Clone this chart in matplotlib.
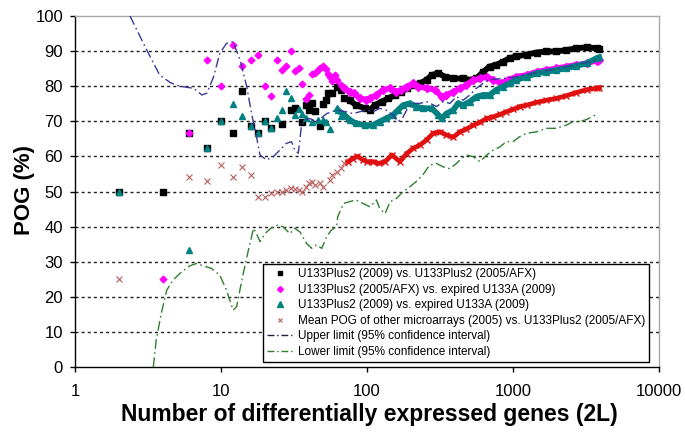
import matplotlib
matplotlib.use("Agg")
import matplotlib.pyplot as plt
from matplotlib.lines import Line2D
from matplotlib.ticker import NullLocator

# ---------------- data ----------------
# Series 1: U133Plus2 (2009) vs. U133Plus2 (2005/AFX)  (black squares)
black_sparse_x = [2, 4, 6, 8, 10, 12, 14, 16, 18, 20, 22, 26, 30, 32, 36, 38, 40, 42, 44, 48, 50, 52, 54, 58, 62, 66, 70]
black_sparse_y = [50, 50, 66.7, 62.5, 70, 66.7, 78.6, 68.75, 66.7, 70, 68.2, 69.2, 73.3, 73.9, 69.7, 74.6, 73.2, 75.1, 72.9, 68.7, 74.9, 76, 78, 78, 79.9, 78.9, 76.5]
black_dense_x = [76, 84, 97, 105, 113, 126, 140, 155, 172, 187, 207, 230, 256, 278, 308, 342, 390, 456, 506, 562, 624, 692, 770, 856, 950, 1055, 1240, 1450, 1690, 1980, 2320, 2720, 3190, 3740, 3900]
black_dense_y = [76, 74.6, 73.7, 73.2, 74.6, 75.6, 76.5, 77.5, 78.4, 79.4, 80.3, 80.8, 81.8, 83.2, 83.7, 82.7, 82.2, 82.2, 81.8, 82.2, 84.1, 85.6, 86.1, 87, 88, 88.5, 89, 89.6, 89.9, 89.9, 90.3, 90.8, 91.1, 90.8, 90.6]

# Series 2: U133Plus2 (2005/AFX) vs. expired U133A (2009)  (magenta diamonds)
mag_sparse_x = [4, 6, 8, 10, 12, 14, 16, 18, 20, 22, 24, 26, 28, 30, 32, 34, 36, 38, 40, 42, 44, 46, 48, 50, 52, 54, 56, 58, 60, 62, 66]
mag_sparse_y = [25, 66.7, 87.5, 80, 91.7, 85.7, 87.5, 88.9, 80, 77.3, 87.5, 84.6, 85.7, 90, 84.4, 85.3, 80.6, 76.3, 77.5, 83.4, 83.9, 84.6, 85.1, 85.8, 84.9, 83.6, 82.5, 81.6, 83.2, 81.9, 80.3]
mag_dense_x = [70, 76, 82, 89, 99, 105, 116, 129, 144, 159, 172, 187, 207, 224, 256, 292, 325, 350, 390, 433, 480, 535, 594, 660, 733, 830, 920, 1055, 1240, 1450, 1690, 1980, 2320, 2720, 3190, 3740, 3900]
mag_dense_y = [79.4, 78.4, 78, 76.5, 76.2, 76.5, 77.5, 79, 79.4, 78.4, 79, 79.9, 80.8, 79.9, 79.4, 79, 77, 77.5, 78.4, 79.4, 80.3, 81.8, 82.2, 82.7, 81.8, 80.8, 81.8, 82.7, 83.2, 84.1, 84.6, 85.1, 85.6, 86.1, 86.5, 87.3, 87.5]

# Series 3: U133Plus2 (2009) vs. expired U133A (2009)  (teal triangles)
teal_sparse_x = [2, 6, 8, 10, 12, 14, 16, 18, 20, 22, 24, 26, 28, 30, 32, 34, 36, 38, 42, 46, 50, 52, 56, 62, 66]
teal_sparse_y = [50, 33.3, 62.5, 70, 75, 71.4, 68.75, 66.7, 70, 68.2, 70.8, 73.1, 78.6, 76.7, 71.9, 73.5, 72.2, 70.8, 69.9, 70.4, 70.4, 69.9, 67.7, 73.7, 71.5]
teal_dense_x = [63, 70, 76, 84, 97, 110, 122, 135, 151, 163, 177, 196, 217, 241, 278, 308, 325, 350, 390, 420, 456, 506, 562, 624, 692, 770, 856, 950, 1055, 1240, 1450, 1690, 1980, 2320, 2720, 3190, 3740, 3900]
teal_dense_y = [73.2, 71.8, 70.4, 69.4, 68.9, 68.9, 69.9, 70.8, 71.8, 73.2, 74.6, 75.1, 74.2, 73.7, 73.7, 71.8, 70.8, 72.2, 73.2, 75.1, 74.6, 75.6, 77, 77.5, 77.5, 79, 79.9, 80.8, 81.8, 82.7, 83.7, 84.1, 84.6, 85.1, 85.8, 86.5, 88, 88.2]

# Series 4: Mean POG of other microarrays (2005) vs. U133Plus2 (2005/AFX)  (red x)
red_sparse_x = [2, 6, 8, 10, 12, 14, 16, 18, 20, 22, 24, 26, 28, 30, 32, 34, 36, 38, 40, 42, 44, 48, 50, 56, 58, 62, 66, 70]
red_sparse_y = [25, 54.2, 53.1, 57.5, 54.2, 57, 54.7, 48.5, 48.5, 49.7, 50, 50, 50.4, 50.9, 50.6, 50.4, 50, 51.4, 52.5, 52.8, 51.8, 52.5, 51.3, 53.2, 54.7, 55.6, 56.6, 58]
red_dense_x = [74, 80, 86, 94, 100, 110, 120, 133, 148, 168, 187, 207, 230, 256, 284, 316, 350, 390, 433, 480, 535, 594, 660, 733, 820, 900, 1000, 1110, 1240, 1450, 1690, 1980, 2320, 2720, 3190, 3740, 3900]
red_dense_y = [58.5, 59.4, 60, 59, 58.5, 58.5, 58, 58.5, 60.4, 58.5, 60.8, 62.3, 63.2, 64.7, 66.6, 67, 66.1, 65.5, 67, 67.8, 68.9, 69.7, 70.8, 71.3, 72, 72.7, 73.4, 74.2, 74.6, 75.4, 76, 76.5, 77.3, 78.2, 79, 79.4, 79.6]

# Upper limit (95% confidence interval)
upper_x = [2.38, 3.1, 3.8, 4.5, 5.2, 6.5, 7.4, 8, 8.9, 9.8, 10.9, 12.1, 13.5, 15, 16.2, 17.5, 18.5, 20.5, 22.8, 25.3, 28, 30.4, 32, 33.8, 34.7, 35.5, 37.6, 40.6, 45, 53, 62, 72, 80, 89, 99, 110, 122, 135, 151, 163, 177, 187, 207, 230, 256, 300, 333, 370, 410, 456, 506, 562, 624, 675, 750, 1000, 1500, 2000, 3000, 3900]
upper_y = [100, 90.3, 83.2, 81, 80, 79.4, 77.5, 78, 82.7, 89.3, 92.2, 92.7, 87.5, 79.9, 72.2, 65.6, 60.4, 59, 59.9, 61.8, 63.7, 64.2, 61.8, 60.9, 64.7, 68.5, 70.4, 70.8, 69.9, 72.2, 73.2, 72.7, 72.2, 72.7, 73.2, 72.7, 73.7, 73.2, 71.8, 69.9, 71.3, 73.2, 75.1, 75.1, 75.6, 74.2, 75.6, 75.1, 77, 76, 77.5, 79.4, 80.8, 81.8, 82, 82.5, 84, 85, 86.5, 87.5]

# Lower limit (95% confidence interval)
lower_x = [3.44, 3.6, 3.9, 4.25, 4.7, 5.4, 6.1, 6.8, 7.6, 8.6, 9.8, 10.9, 12.1, 12.8, 13.9, 15.4, 16.7, 17.5, 18.5, 20, 21.9, 24.6, 26.7, 29.6, 32, 34.7, 38.6, 41.8, 45, 49, 53, 57, 62, 63, 69, 76, 84, 94, 105, 116, 122, 133, 144, 159, 177, 196, 217, 241, 268, 300, 333, 370, 410, 433, 480, 535, 594, 660, 733, 813, 900, 1000, 1110, 1240, 1450, 1690, 1980, 2320, 2570, 2850, 3190, 3530, 3840]
lower_y = [0, 7.7, 15.3, 21.9, 24.8, 27.2, 28.8, 29.5, 28.8, 28.1, 26.2, 21.9, 16.2, 17.2, 24.8, 33.3, 39.5, 38, 35.7, 38, 39.5, 40.5, 39.9, 38, 39.5, 38.5, 35.2, 33.8, 34.8, 33.8, 37.2, 39, 40, 42.8, 46.6, 47.1, 47.6, 46.6, 45.6, 47.6, 45.2, 43.7, 47.1, 48, 50, 51.3, 52.8, 54.7, 57.5, 58, 57, 56.5, 58, 59, 60.4, 59.9, 58.5, 60.4, 61.8, 62.7, 64.2, 64.2, 65.6, 66.6, 67, 68, 68, 68.9, 69.9, 69.9, 70.5, 71.5, 72.1]

labels = [
    "U133Plus2 (2009) vs. U133Plus2 (2005/AFX)",
    "U133Plus2 (2005/AFX) vs. expired U133A (2009)",
    "U133Plus2 (2009) vs. expired U133A (2009)",
    "Mean POG of other microarrays (2005) vs. U133Plus2 (2005/AFX)",
    "Upper limit (95% confidence interval)",
    "Lower limit (95% confidence interval)",
]
x_ticks = [1, 10, 100, 1000, 10000]
x_ticklabels = ["1", "10", "100", "1000", "10000"]
y_ticks = [0, 10, 20, 30, 40, 50, 60, 70, 80, 90, 100]
grid_levels = [10, 20, 30, 40, 50, 60, 70, 80, 90]

# ---------------- style ----------------
C_BLACK = "#000000"
C_MAG = "#ff00ff"
C_TEAL = "#008080"
C_RED = "#e01010"
C_UP = "#3a3a98"
C_LOW = "#2f7f2f"

plt.rcParams["font.family"] = ["Liberation Sans", "DejaVu Sans"]

fig = plt.figure(figsize=(6.85, 4.33), dpi=100)
ax = fig.add_axes([75 / 685, 1 - 367 / 433, 584 / 685, 351 / 433])
ax.set_xscale("log")
ax.set_xlim(1, 10000)
ax.set_ylim(0, 100)

for g in grid_levels:
    ax.axhline(g, color="#222222", lw=1.0, ls=(0, (2.2, 2.2)), zorder=1)

# series
ax.plot(black_sparse_x, black_sparse_y, ls="none", marker="s", ms=4.0, color=C_BLACK, zorder=3)
ax.plot(black_dense_x, black_dense_y, ls="-", lw=4.2, marker="s", ms=4.5, color=C_BLACK, zorder=3)

ax.plot(mag_sparse_x, mag_sparse_y, ls="none", marker="D", ms=3.4, color=C_MAG, zorder=4)
ax.plot(mag_dense_x, mag_dense_y, ls="-", lw=4.0, marker="D", ms=4.0, color=C_MAG, zorder=4)

ax.plot(teal_sparse_x, teal_sparse_y, ls="none", marker="^", ms=4.5, color=C_TEAL, zorder=5)
ax.plot(teal_dense_x, teal_dense_y, ls="-", lw=4.2, marker="^", ms=4.8, color=C_TEAL, zorder=5)

ax.plot(red_sparse_x, red_sparse_y, ls="none", marker="x", ms=4.0, mew=0.8, color="#b85c5c", zorder=5)
ax.plot(red_dense_x, red_dense_y, ls="-", lw=3.4, marker="x", ms=4.0, mew=1.0, color=C_RED, zorder=5)

ax.plot(upper_x, upper_y, ls=(0, (7, 2.5, 1.2, 2.5)), lw=1.0, color=C_UP, zorder=6)
ax.plot(lower_x, lower_y, ls=(0, (7, 2.5, 1.2, 2.5)), lw=1.0, color=C_LOW, zorder=6)

# axes styling
ax.set_xticks(x_ticks)
ax.set_xticklabels(x_ticklabels)
ax.xaxis.set_minor_locator(NullLocator())
ax.set_yticks(y_ticks)
ax.tick_params(axis="x", direction="out", length=3.6, width=1, pad=9, labelsize=12)
ax.tick_params(axis="y", direction="out", length=3.6, width=1, pad=5, labelsize=12)
for s in ["left", "bottom"]:
    ax.spines[s].set_color("#000000")
    ax.spines[s].set_linewidth(1.0)
for s in ["top", "right"]:
    ax.spines[s].set_color("#a8a8a8")
    ax.spines[s].set_linewidth(1.0)

fig.text(25 / 685, 1 - 190 / 433, "POG (%)", rotation=90, ha="center", va="center",
         fontsize=16, fontweight="bold")
fig.text(369 / 685, 1 - 415 / 433, "Number of differentially expressed genes (2L)",
         ha="center", va="center", fontsize=16.5, fontweight="bold",
         family=["Liberation Sans Narrow", "Liberation Sans", "DejaVu Sans"])

handles = [
    Line2D([], [], ls="none", marker="s", ms=3.5, color=C_BLACK),
    Line2D([], [], ls="none", marker="D", ms=3.0, color=C_MAG),
    Line2D([], [], ls="none", marker="^", ms=4.0, color=C_TEAL),
    Line2D([], [], ls="none", marker="x", ms=3.5, mew=0.8, color="#b85c5c"),
    Line2D([], [], ls=(0, (5, 2, 1, 2)), lw=1.0, color="#202040"),
    Line2D([], [], ls=(0, (5, 2, 1, 2)), lw=1.0, color=C_LOW),
]
leg = ax.legend(handles, labels, loc="lower right", bbox_to_anchor=(0.983, 0.014),
                fontsize=8.5, frameon=True, fancybox=False, framealpha=1,
                edgecolor="#000000", labelspacing=0.3, handlelength=2.2,
                handletextpad=0.4, borderpad=0.35, borderaxespad=0)
leg.get_frame().set_linewidth(1.0)
leg.set_zorder(10)

fig.savefig("out.png", dpi=100)
